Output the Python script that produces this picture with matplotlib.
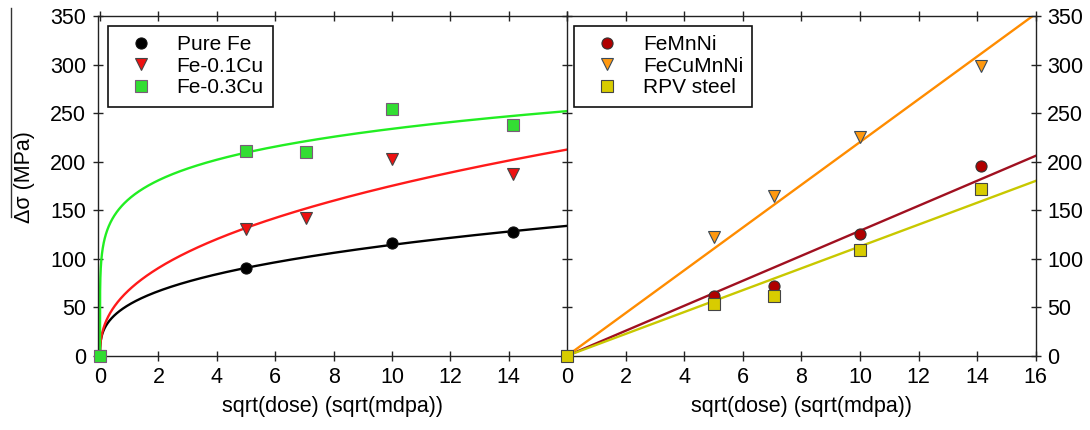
import numpy as np
import matplotlib
matplotlib.use("Agg")
import matplotlib.pyplot as plt
from matplotlib.lines import Line2D

plt.rcParams['font.family'] = ['Liberation Sans', 'DejaVu Sans']

# ---------------- data ----------------
x_fe = [0.0, 5.0, 10.0, 14.14]
y_pure_fe = [0.0, 90.0, 116.0, 127.0]

x_cu = [0.0, 5.0, 7.07, 10.0, 14.14]
y_fe01cu = [0.0, 131.0, 142.0, 203.0, 187.0]
y_fe03cu = [0.0, 210.5, 210.0, 254.5, 237.5]

x_r = [0.0, 5.0, 7.07, 10.0, 14.14]
y_femnni = [0.0, 61.0, 72.0, 125.5, 195.0]
y_fecumnni = [0.0, 122.5, 165.0, 225.5, 298.5]
y_rpv = [0.0, 53.0, 62.0, 108.5, 172.0]

left_labels = ['Pure Fe', 'Fe-0.1Cu', 'Fe-0.3Cu']
right_labels = ['FeMnNi', 'FeCuMnNi', 'RPV steel']
xticks = [0, 2, 4, 6, 8, 10, 12, 14, 16]
yticks = [0, 50, 100, 150, 200, 250, 300, 350]
xlabel = 'sqrt(dose) (sqrt(mdpa))'
ylabel = '\u0394\u03c3 (MPa)'

# ---------------- fits ----------------
def power_fit(x, y):
    x = np.asarray(x); y = np.asarray(y)
    m = x > 0
    b, lna = np.polyfit(np.log(x[m]), np.log(y[m]), 1)
    return np.exp(lna), b

def origin_fit(x, y):
    x = np.asarray(x); y = np.asarray(y)
    return np.sum(x * y) / np.sum(x * x)

xx = np.unique(np.concatenate([np.geomspace(1e-4, 1, 300), np.linspace(0, 16, 600)]))

fig = plt.figure(figsize=(10.9, 4.3), dpi=100)
axL = fig.add_axes([0.0896, 0.1728, 0.4307, 0.79])
axR = fig.add_axes([0.5204, 0.1728, 0.4298, 0.79])

FS = 15.5
ms = 8
mew = 0.8

# left panel
left_series = [
    (x_fe, y_pure_fe, 'o', '#000000', '#000000', '#111111'),
    (x_cu, y_fe01cu, 'v', '#ee1111', '#ff1a1a', '#444444'),
    (x_cu, y_fe03cu, 's', '#33dd33', '#22ee22', '#7a5a7a'),
]
for (x, y, mk, fc, lc, ec), lab in zip(left_series, left_labels):
    a, b = power_fit(x, y)
    axL.plot(xx, a * xx ** b, color=lc, lw=1.7, zorder=2)
for (x, y, mk, fc, lc, ec), lab in zip(left_series, left_labels):
    axL.plot(x, y, ls='none', marker=mk, ms=ms, mfc=fc, mec=ec, mew=mew,
             label=lab, zorder=3, clip_on=False)

# right panel
right_series = [
    (x_r, y_femnni, 'o', '#b00000', '#a01020', '#333333'),
    (x_r, y_fecumnni, 'v', '#ff9910', '#ff8c00', '#3a4a5a'),
    (x_r, y_rpv, 's', '#d8cc00', '#c8c800', '#444444'),
]
for (x, y, mk, fc, lc, ec), lab in zip(right_series, right_labels):
    k = origin_fit(x, y)
    axR.plot(xx, k * xx, color=lc, lw=1.7, zorder=2)
for (x, y, mk, fc, lc, ec), lab in zip(right_series, right_labels):
    axR.plot(x, y, ls='none', marker=mk, ms=ms, mfc=fc, mec=ec, mew=mew,
             label=lab, zorder=3, clip_on=False)

for ax in (axL, axR):
    ax.set_ylim(0, 350)
    ax.set_xticks(xticks)
    ax.set_yticks(yticks)
    for s in ax.spines.values():
        s.set_linewidth(1.0)
        s.set_color('#222222')
    ax.tick_params(direction='inout', length=6.5, width=1.0, color='#222222',
                   labelsize=FS, pad=5)
    ax.set_xlabel(xlabel, fontsize=FS, labelpad=6)

axL.set_xlim(-0.08, 16)
axR.set_xlim(0, 16)

axL.tick_params(top=True, right=False, left=True, bottom=True)
axL.set_xticklabels([str(t) for t in xticks[:-1]] + [''])
axR.tick_params(top=True, right=True, left=True, bottom=True,
                labelleft=False, labelright=True)
axL.spines['right'].set_visible(False)

axL.set_ylabel(ylabel, fontsize=FS)
axL.yaxis.set_label_coords(-0.133, 0.525)
fig.add_artist(Line2D([11 / 1090, 11 / 1090], [1 - 8 / 430, 1 - 217 / 430],
                      transform=fig.transFigure, color='#333333', lw=1.0))

leg_kw = dict(loc='upper left', borderaxespad=0, fancybox=False, fontsize=15,
              borderpad=0.45, labelspacing=0.12, handlelength=2.3,
              handletextpad=0.55, framealpha=1, edgecolor='#111111')
lgL = axL.legend(bbox_to_anchor=(0.022, 0.971), **leg_kw)
lgR = axR.legend(bbox_to_anchor=(0.0145, 0.971), **leg_kw)
for lg in (lgL, lgR):
    lg.get_frame().set_linewidth(1.2)
    lg.set_zorder(5)

fig.savefig('out.png', dpi=100)
